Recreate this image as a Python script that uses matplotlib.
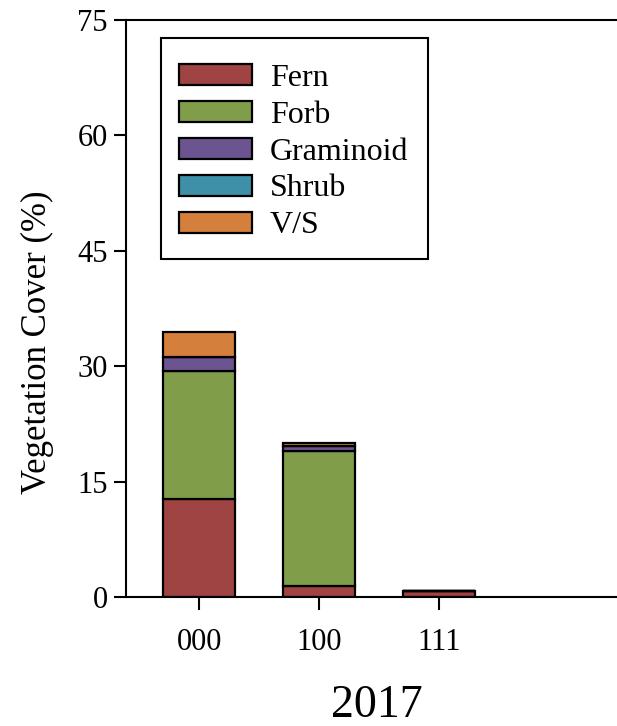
import matplotlib
matplotlib.use("Agg")
import matplotlib.pyplot as plt
from matplotlib.patches import Rectangle
import numpy as np

plt.rcParams["font.family"] = ["Liberation Serif", "DejaVu Serif"]

sites = ["000", "100", "111", ""]
groups = ["Fern", "Forb", "Graminoid", "Shrub", "V/S"]
fern = [12.7, 1.4, 0.8, 0.0]
forb = [16.7, 17.6, 0.0, 0.0]
graminoid = [1.8, 0.6, 0.0, 0.0]
shrub = [0.0, 0.0, 0.0, 0.0]
vs = [3.3, 0.4, 0.0, 0.0]
colors = ["#A04343", "#809D4A", "#6C5491", "#3D90A8", "#D57F3C"]
yticks = [0, 15, 30, 45, 60, 75]

series = [fern, forb, graminoid, shrub, vs]

W, H = 617, 726
fig = plt.figure(figsize=(W / 100, H / 100), dpi=100)
ax = fig.add_axes([0.2042, 0.1777, 0.7958, 0.7948])

x = np.arange(len(sites))
bottom = np.zeros(len(sites))
handles = []
for name, vals, col in zip(groups, series, colors):
    vals = np.array(vals)
    h = ax.bar(x[:3], vals[:3], width=0.6, bottom=bottom[:3], color=col,
               edgecolor="black", linewidth=1.6, label=name)
    handles.append(h)
    bottom += vals

ax.set_xlim(-0.61, 3.48)
ax.set_ylim(0, 75)
ax.set_yticks(yticks)
ax.set_xticks(x[:3])
ax.set_xticklabels(sites[:3])
ax.tick_params(axis="both", labelsize=22, width=1.5, length=9, direction="out")
ax.tick_params(axis="x", pad=13)
ax.tick_params(axis="y", pad=4)
for side in ["left", "bottom", "top"]:
    ax.spines[side].set_linewidth(1.5)
ax.spines["right"].set_visible(False)

# axis titles placed explicitly
fig.text(0.06, 1 - 342 / H, "Vegetation Cover (%)", fontsize=25,
         rotation=90, ha="center", va="center")
ax.set_xlabel("2017", fontsize=33)
ax.xaxis.set_label_coords(0.511, -0.188)
ax.xaxis.label.set_verticalalignment("center")

# legend entries without their own frame; the box is drawn separately
leg = ax.legend(handles=handles, loc="upper left",
                bbox_to_anchor=(179 / W, 1 - 64 / H), bbox_transform=fig.transFigure,
                borderaxespad=0, fontsize=23, frameon=False,
                handlelength=2.29, handleheight=0.63, labelspacing=0.245,
                handletextpad=0.56, borderpad=0)
fig.add_artist(Rectangle((161 / W, 1 - 259 / H), (428 - 161) / W, (259 - 38) / H,
                         transform=fig.transFigure, fill=False,
                         edgecolor="black", linewidth=1.5, zorder=5))

fig.savefig("out.png", dpi=100)
